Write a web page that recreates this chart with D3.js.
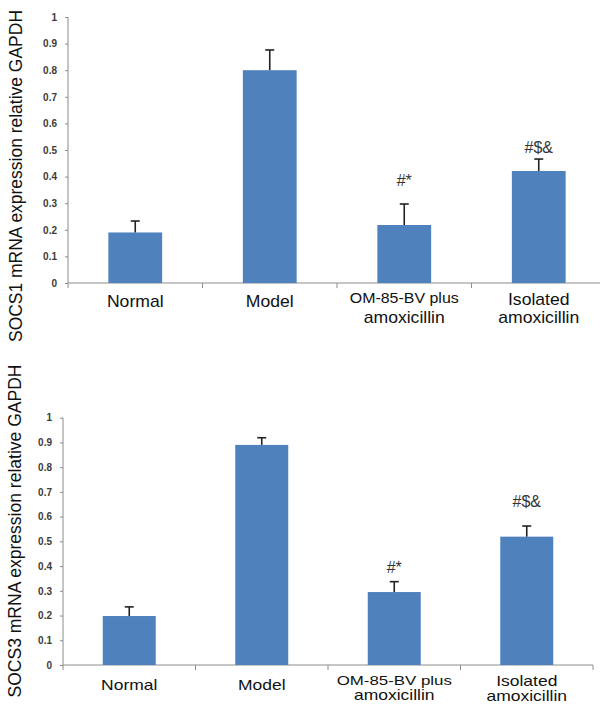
<!DOCTYPE html>
<html>
<head>
<meta charset="utf-8">
<title>SOCS1 / SOCS3 mRNA expression</title>
<script src="https://cdn.jsdelivr.net/npm/d3@7/dist/d3.min.js"></script>
<style>
  body { margin: 0; background: #fff; }
  svg { display: block; font-family: "Liberation Sans", Arial, sans-serif; }
</style>
</head>
<body>
<svg id="viz" width="600" height="715"></svg>
<script>
// groups along the x axis (label lines)
var groups = ["Normal", "Model", "OM-85-BV plus", "Isolated"];
var groupLines = [["Normal"], ["Model"], ["OM-85-BV plus", "amoxicillin"], ["Isolated", "amoxicillin"]];
var yTicks = [0, 0.1, 0.2, 0.3, 0.4, 0.5, 0.6, 0.7, 0.8, 0.9, 1];

// SOCS1 panel
var socs1Mean = [0.19, 0.80, 0.218, 0.421];
var socs1Err = [0.043, 0.076, 0.079, 0.045];
var socs1Marks = ["", "", "#*", "#$&"];

// SOCS3 panel
var socs3Mean = [0.198, 0.89, 0.295, 0.519];
var socs3Err = [0.037, 0.029, 0.042, 0.043];
var socs3Marks = ["", "", "#*", "#$&"];

var barColor = "#4f81bd";
var axisColor = "#8c8c8c";

var svg = d3.select("#viz");

function drawPanel(opt) {
    var x = d3.scaleBand().domain(groups).range([opt.left, opt.right])
        .paddingInner(0.6).paddingOuter(0.3);
    var y = d3.scaleLinear().domain([0, 1]).range([opt.bottom, opt.top]);
    var g = svg.append("g");

    // y axis
    var yAxis = g.append("g").attr("transform", "translate(" + opt.left + ",0)")
        .call(d3.axisLeft(y).tickValues(yTicks).tickSize(3).tickPadding(8)
            .tickFormat(function(d) { return String(d); }));
    yAxis.selectAll("path, line").attr("stroke", axisColor);
    yAxis.select(".domain").attr("d", "M0," + y(1) + "V" + y(0));
    yAxis.selectAll("text").attr("fill", "#3d3a36")
        .style("font-size", "10px").style("font-weight", "bold")
        .style("font-family", "'Liberation Sans', Arial, sans-serif");

    // x axis line + boundary ticks
    g.append("line").attr("x1", opt.left).attr("x2", opt.right)
        .attr("y1", y(0)).attr("y2", y(0)).attr("stroke", axisColor);
    g.selectAll(".xtick").data(d3.range(groups.length + 1)).enter().append("line")
        .attr("x1", function(i) { return opt.left + i * x.step(); })
        .attr("x2", function(i) { return opt.left + i * x.step(); })
        .attr("y1", y(0)).attr("y2", y(0) + 5).attr("stroke", axisColor);

    // bars
    g.selectAll(".bar").data(opt.mean).enter().append("rect")
        .attr("x", function(d, i) { return x(groups[i]); })
        .attr("width", x.bandwidth())
        .attr("y", function(d) { return y(d); })
        .attr("height", function(d) { return y(0) - y(d); })
        .attr("fill", barColor);

    // one-sided error bars
    var cx = function(i) { return x(groups[i]) + x.bandwidth() / 2; };
    opt.err.forEach(function(e, i) {
        var top = y(opt.mean[i] + e);
        g.append("line").attr("x1", cx(i)).attr("x2", cx(i))
            .attr("y1", y(opt.mean[i])).attr("y2", top)
            .attr("stroke", "#222").attr("stroke-width", 1.6);
        g.append("line").attr("x1", cx(i) - 4.5).attr("x2", cx(i) + 4.5)
            .attr("y1", top).attr("y2", top)
            .attr("stroke", "#222").attr("stroke-width", 1.6);
    });

    // significance marks
    opt.marks.forEach(function(m, i) {
        if (!m) return;
        g.append("text").attr("x", cx(i)).attr("y", y(opt.mean[i] + opt.err[i]) - opt.markGap[i])
            .attr("text-anchor", "middle").attr("fill", "#333")
            .style("font-size", "16px").text(m);
    });

    // category labels
    groupLines.forEach(function(lines, i) {
        lines.forEach(function(t, k) {
            var fs = (i == 2 && k == 0) ? opt.smallFont : opt.labelFont;
            var base = lines.length == 1 ? opt.labelY : opt.labelY2[i][k];
            g.append("text")
                .attr("transform", "translate(" + cx(i) + "," + base + ") scale(" + opt.stretch + ",1)")
                .attr("text-anchor", "middle").attr("fill", "#111")
                .style("font-size", fs + "px").text(t);
        });
    });

    // y title
    g.append("text")
        .attr("transform", "translate(" + opt.titleX + "," + opt.titleY + ") rotate(-90)")
        .attr("text-anchor", "middle").attr("fill", "#111")
        .attr("textLength", opt.titleLen).attr("lengthAdjust", "spacingAndGlyphs")
        .style("font-size", "18px").text(opt.title);
}

drawPanel({
    mean: socs1Mean, err: socs1Err, marks: socs1Marks, markGap: [0, 0, 18, 6],
    left: 68, right: 606, top: 17, bottom: 283,
    labelY: 307, labelY2: [null, null, [303, 323], [305, 323]],
    labelFont: 16, smallFont: 14.5, stretch: 1.1,
    title: "SOCS1 mRNA expression relative GAPDH", titleX: 22, titleY: 176, titleLen: 332
});

drawPanel({
    mean: socs3Mean, err: socs3Err, marks: socs3Marks, markGap: [0, 0, 9, 19],
    left: 63, right: 593, top: 417.7, bottom: 665,
    labelY: 690, labelY2: [null, null, [685, 700], [686, 701]],
    labelFont: 14, smallFont: 13.5, stretch: 1.25,
    title: "SOCS3 mRNA expression relative GAPDH", titleX: 21, titleY: 531, titleLen: 333
});
</script>
</body>
</html>
